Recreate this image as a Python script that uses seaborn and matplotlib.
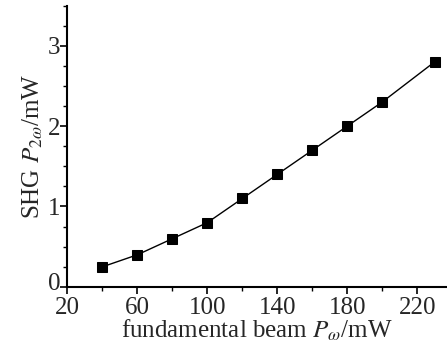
import numpy as np
import pandas as pd
import matplotlib
matplotlib.use("Agg")
import matplotlib.pyplot as plt
import matplotlib.transforms as mtransforms
import seaborn as sns
from matplotlib.ticker import MultipleLocator

# fundamental power (mW) and SHG power (mW)
p_fund = [40, 60, 80, 100, 120, 140, 160, 180, 200, 230]
p_shg = [0.25, 0.40, 0.60, 0.80, 1.10, 1.40, 1.70, 2.00, 2.30, 2.80]

x_ticks = [20, 60, 100, 140, 180, 220]
y_ticks = [0, 1, 2, 3]

sns.set_style("ticks")
plt.rcParams['font.family'] = ['Liberation Serif', 'DejaVu Serif']
plt.rcParams['mathtext.fontset'] = 'stix'

df = pd.DataFrame({'fund': p_fund, 'shg': p_shg})

fig = plt.figure(figsize=(4.47, 3.44), dpi=100)
ax = fig.add_axes([0.151, 0.166, 0.849, 0.818])
sns.lineplot(data=df, x='fund', y='shg', ax=ax, color='black', lw=1.0,
             marker='s', markersize=6.5, markeredgecolor='black',
             markerfacecolor='black')

ax.set_xlim(20, 237)
ax.set_ylim(0, 3.5)
ax.set_xticks(x_ticks)
ax.set_yticks(y_ticks)
ax.xaxis.set_minor_locator(MultipleLocator(20))
ax.yaxis.set_minor_locator(MultipleLocator(0.25))
ax.tick_params(which='major', direction='out', length=5, width=1.2,
               labelsize=18, pad=0, color='black')
ax.tick_params(axis='x', which='major', pad=2)
ax.tick_params(which='minor', direction='out', length=3, width=1.0,
               color='black')

# lift the "0" on the y axis a little, as in the original
fig.canvas.draw()
ylabs = ax.get_yticklabels()
ylabs[0].set_transform(ylabs[0].get_transform() +
                       mtransforms.ScaledTranslation(0, 4 / 72, fig.dpi_scale_trans))

sns.despine(ax=ax)
for s in ['left', 'bottom']:
    ax.spines[s].set_linewidth(1.5)
    ax.spines[s].set_color('black')

ax.set_xlabel(r'fundamental beam $P_{\omega}$/mW', fontsize=18, labelpad=-1)
ax.set_ylabel(r'SHG $P_{2\omega}$/mW', fontsize=18, labelpad=2)

fig.savefig('out.png', dpi=100)
